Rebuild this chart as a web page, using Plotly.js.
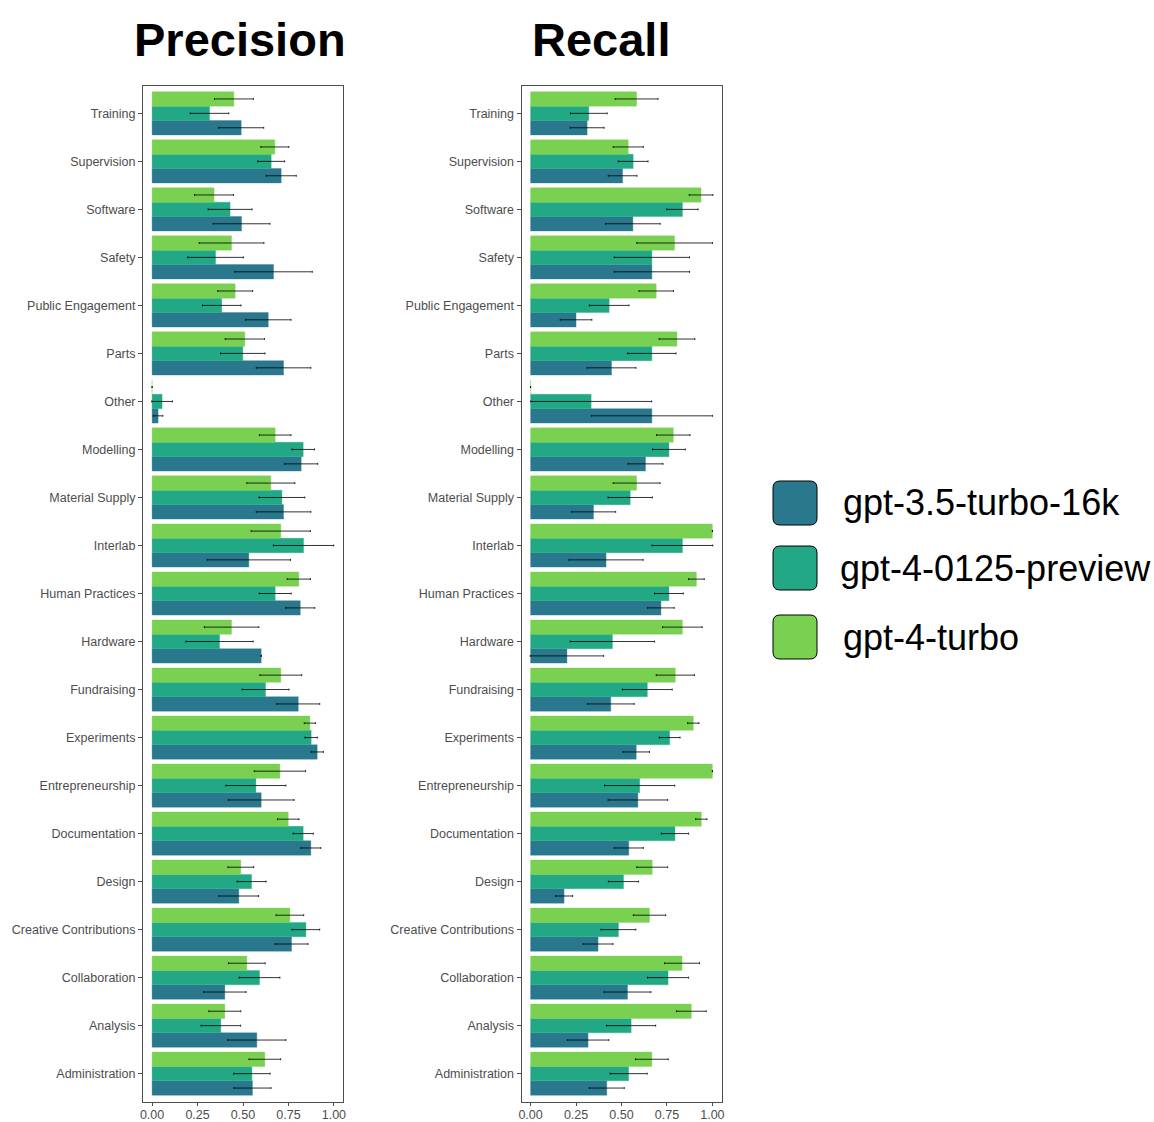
<!DOCTYPE html>
<html>
<head>
<meta charset="utf-8">
<script src="https://cdn.plot.ly/plotly-3.0.1.min.js"></script>
<style>html,body{margin:0;padding:0;background:#fff;}</style>
</head>
<body>
<div id="chart" style="width:1154px;height:1122px;"></div>
<script>
// ---- data (top to bottom) ----
const categories = ["Training","Supervision","Software","Safety","Public Engagement","Parts","Other","Modelling","Material Supply","Interlab","Human Practices","Hardware","Fundraising","Experiments","Entrepreneurship","Documentation","Design","Creative Contributions","Collaboration","Analysis","Administration"];
const models = ["gpt-3.5-turbo-16k","gpt-4-0125-preview","gpt-4-turbo"];
const modelColors = ["#2A788E","#22A884","#7AD151"];

const precision_gpt35      = [0.49,0.71,0.492,0.668,0.639,0.723,0.033,0.82,0.723,0.532,0.815,0.6,0.804,0.908,0.6,0.873,0.477,0.767,0.4,0.576,0.552];
const precision_gpt35_err  = [0.124,0.083,0.156,0.213,0.125,0.15,0.026,0.091,0.15,0.229,0.08,0,0.118,0.034,0.181,0.055,0.109,0.09,0.117,0.16,0.102];
const precision_gpt4p      = [0.316,0.655,0.429,0.349,0.383,0.499,0.055,0.831,0.714,0.833,0.677,0.371,0.624,0.875,0.571,0.831,0.547,0.846,0.591,0.378,0.549];
const precision_gpt4p_err  = [0.106,0.074,0.121,0.153,0.106,0.122,0.057,0.062,0.126,0.166,0.088,0.185,0.129,0.034,0.165,0.056,0.08,0.076,0.112,0.109,0.1];
const precision_gpt4t      = [0.45,0.675,0.341,0.437,0.457,0.51,0,0.677,0.653,0.708,0.807,0.437,0.708,0.868,0.703,0.749,0.488,0.758,0.521,0.4,0.62];
const precision_gpt4t_err  = [0.107,0.077,0.107,0.178,0.096,0.108,0,0.087,0.132,0.163,0.064,0.15,0.115,0.031,0.141,0.059,0.071,0.076,0.101,0.088,0.087];

const recall_gpt35         = [0.311,0.506,0.5625,0.667,0.25,0.445,0.667,0.632,0.346,0.415,0.717,0.2,0.441,0.581,0.59,0.54,0.184,0.371,0.533,0.316,0.419];
const recall_gpt35_err     = [0.093,0.079,0.15,0.207,0.087,0.134,0.333,0.096,0.122,0.204,0.073,0.202,0.129,0.073,0.164,0.08,0.047,0.082,0.129,0.114,0.096];
const recall_gpt4p         = [0.32,0.564,0.835,0.667,0.432,0.667,0.333,0.761,0.548,0.835,0.761,0.45,0.642,0.765,0.6,0.794,0.511,0.483,0.756,0.553,0.539];
const recall_gpt4p_err     = [0.101,0.082,0.086,0.207,0.109,0.133,0.333,0.09,0.122,0.167,0.079,0.232,0.137,0.057,0.193,0.075,0.083,0.096,0.113,0.135,0.102];
const recall_gpt4t         = [0.583,0.537,0.9375,0.792,0.691,0.805,0,0.785,0.583,1.0,0.912,0.835,0.796,0.895,1.0,0.939,0.669,0.654,0.833,0.884,0.667];
const recall_gpt4t_err     = [0.118,0.083,0.065,0.208,0.095,0.098,0,0.092,0.129,0,0.043,0.109,0.105,0.031,0,0.031,0.085,0.089,0.096,0.082,0.09];

const xTicks = [0,0.25,0.5,0.75,1];
const xTickLabels = ["0.00","0.25","0.50","0.75","1.00"];

// ---- build ----
const W = 1154, H = 1122;
const FONT = '"Liberation Sans", Arial, Helvetica, sans-serif';
const px = x => x / W;
const py = y => 1 - y / H;

const precisionSeries = [[precision_gpt35,precision_gpt35_err],[precision_gpt4p,precision_gpt4p_err],[precision_gpt4t,precision_gpt4t_err]];
const recallSeries = [[recall_gpt35,recall_gpt35_err],[recall_gpt4p,recall_gpt4p_err],[recall_gpt4t,recall_gpt4t_err]];

function hexToRgba(h,a){const n=parseInt(h.slice(1),16);return `rgba(${(n>>16)&255},${(n>>8)&255},${n&255},${a})`;}

const traces = [];
[[precisionSeries,'x','y'],[recallSeries,'x2','y2']].forEach(([series,xa,ya])=>{
  series.forEach(([vals,errs],i)=>{
    traces.push({
      type:'bar', orientation:'h',
      x: vals, y: categories,
      xaxis: xa, yaxis: ya,
      name: models[i], showlegend:false,
      marker:{color:modelColors[i], line:{color:hexToRgba(modelColors[i],0.35), width:1}},
      error_x:{type:'data', array: errs, visible:true, color:'rgba(0,0,0,0.8)', thickness:1, width:1},
      hoverinfo:'x+y+name'
    });
  });
});

const catOrder = categories.slice().reverse();
const yDomain = [1-1101.5/H, 1-85.5/H];
function yAxis(anchor){
  return {domain:yDomain, anchor:anchor, type:'category', categoryorder:'array', categoryarray:catOrder,
    range:[-0.58, categories.length-0.42], showgrid:false, zeroline:false,
    showline:true, mirror:true, linecolor:'#4d4d4d', linewidth:1,
    ticks:'outside', ticklen:4, tickcolor:'#4d4d4d', tickwidth:1,
    tickfont:{family:FONT, size:12.5, color:'#4d4d4d'}, fixedrange:true};
}
function xAxis(domain, anchor){
  return {domain:domain, anchor:anchor, range:[-0.05,1.05], showgrid:false, zeroline:false,
    showline:true, mirror:true, linecolor:'#4d4d4d', linewidth:1,
    tickmode:'array', tickvals:xTicks, ticktext:xTickLabels,
    ticks:'outside', ticklen:3, tickcolor:'#4d4d4d', tickwidth:1, ticklabelstandoff:-2,
    tickfont:{family:FONT, size:12.5, color:'#4d4d4d'}, fixedrange:true};
}

// custom large legend
function roundRect(x0,y0,x1,y1,r){
  const X=v=>px(v), Y=v=>py(v);
  return `M${X(x0+r)},${Y(y0)} L${X(x1-r)},${Y(y0)} Q${X(x1)},${Y(y0)} ${X(x1)},${Y(y0+r)} L${X(x1)},${Y(y1-r)} Q${X(x1)},${Y(y1)} ${X(x1-r)},${Y(y1)} L${X(x0+r)},${Y(y1)} Q${X(x0)},${Y(y1)} ${X(x0)},${Y(y1-r)} L${X(x0)},${Y(y0+r)} Q${X(x0)},${Y(y0)} ${X(x0+r)},${Y(y0)} Z`;
}
const legendTop = [481, 546, 615];
const shapes = [], annotations = [];
models.forEach((m,i)=>{
  const y0 = legendTop[i];
  shapes.push({type:'path', xref:'paper', yref:'paper', path: roundRect(773,y0,817,y0+44,7),
    fillcolor: modelColors[i], line:{color:'#000', width:1}});
  annotations.push({xref:'paper', yref:'paper', x:px(i===1?838:841), y:py(y0+22), xanchor:'left', yanchor:'middle',
    text:m, showarrow:false, font:{family:FONT, size:36, color:'#000'}});
});
annotations.push({xref:'paper', yref:'paper', x:px(240), y:py(39), xanchor:'center', yanchor:'middle',
  text:'<b>Precision</b>', showarrow:false, font:{family:FONT, size:47, color:'#000'}});
annotations.push({xref:'paper', yref:'paper', x:px(601), y:py(39), xanchor:'center', yanchor:'middle',
  text:'<b>Recall</b>', showarrow:false, font:{family:FONT, size:47, color:'#000'}});

const layout = {
  width:W, height:H, margin:{l:0,r:0,t:0,b:0}, paper_bgcolor:'#fff', plot_bgcolor:'#fff',
  barmode:'group', bargap:0.1, bargroupgap:0, showlegend:false,
  font:{family:FONT},
  xaxis: xAxis([143/W, 343/W], 'y'),
  yaxis: yAxis('x'),
  xaxis2: xAxis([521.5/W, 721.5/W], 'y2'),
  yaxis2: yAxis('x2'),
  shapes: shapes, annotations: annotations
};

Plotly.newPlot('chart', traces, layout, {displayModeBar:false, staticPlot:true});
</script>
</body>
</html>
